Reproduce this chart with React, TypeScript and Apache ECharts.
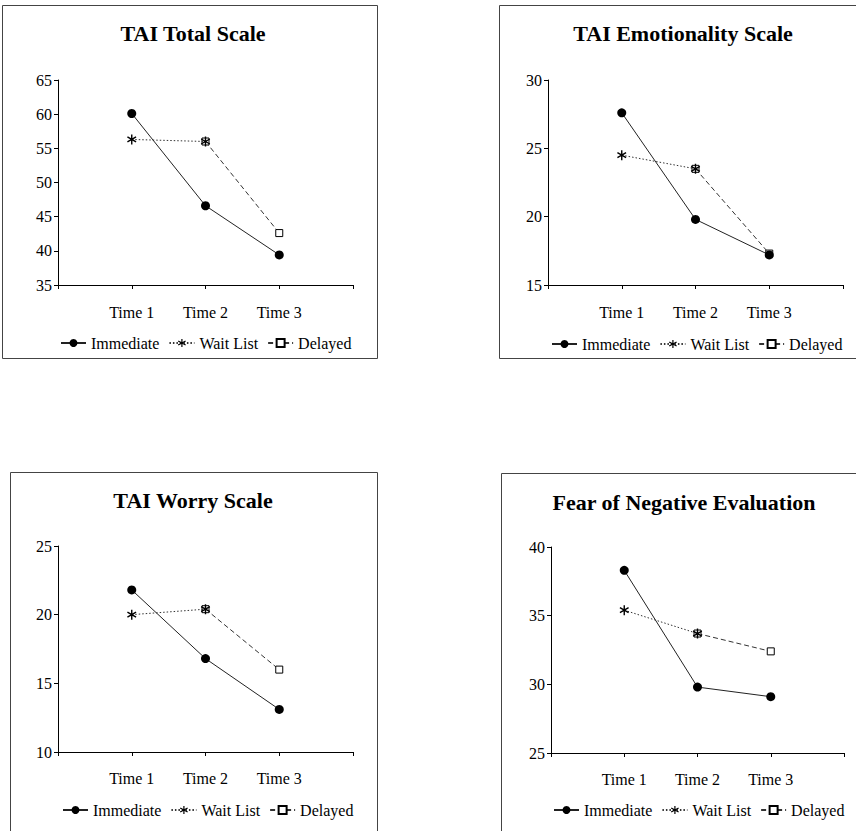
import React, { useEffect, useRef } from 'react';
import * as echarts from 'echarts';

const categories = ['Time 1', 'Time 2', 'Time 3'];
const seriesNames = ['Immediate', 'Wait List', 'Delayed'];
const panelTitles = ['TAI Total Scale', 'TAI Emotionality Scale', 'TAI Worry Scale', 'Fear of Negative Evaluation'];
const yMins = [35, 15, 10, 25];
const yMaxs = [65, 30, 25, 40];
const yStep = 5;

const totalImmediate = [60.1, 46.6, 39.4];
const totalWaitList = [56.3, 56.0, null];
const totalDelayed = [null, 56.0, 42.6];

const emotionImmediate = [27.6, 19.8, 17.2];
const emotionWaitList = [24.5, 23.5, null];
const emotionDelayed = [null, 23.5, 17.3];

const worryImmediate = [21.8, 16.8, 13.1];
const worryWaitList = [20.0, 20.4, null];
const worryDelayed = [null, 20.4, 16.0];

const fneImmediate = [38.3, 29.8, 29.1];
const fneWaitList = [35.4, 33.7, null];
const fneDelayed = [null, 33.7, 32.4];

const panelData = [
  [totalImmediate, totalWaitList, totalDelayed],
  [emotionImmediate, emotionWaitList, emotionDelayed],
  [worryImmediate, worryWaitList, worryDelayed],
  [fneImmediate, fneWaitList, fneDelayed],
];

// layout (pixels)
const layouts = [
  { box: [2.5, 5.5, 375, 353], grid: [58, 80, 295, 205], title: [193, 33], legend: [60, 335], labelMargin: 19 },
  { box: [499.5, 5.5, 390, 353], grid: [548, 80, 295, 205], title: [683, 33], legend: [551, 336], labelMargin: 19 },
  { box: [10.5, 472.5, 367, 390], grid: [58, 546, 295, 206], title: [193, 500], legend: [62, 802], labelMargin: 18 },
  { box: [501.5, 473.5, 390, 390], grid: [551, 547, 293, 206], title: [684, 502], legend: [553, 802], labelMargin: 18 },
];

const FONT = 'Liberation Serif, serif';

const asteriskPath =
  'path://M-0.7,-5 L0.7,-5 L0.7,5 L-0.7,5 Z ' +
  'M3.98,3.11 L-4.68,-1.89 L-3.98,-3.11 L4.68,1.89 Z ' +
  'M-4.68,1.89 L3.98,-3.11 L4.68,-1.89 L-3.98,3.11 Z';

function toPoints(vals: (number | null)[]) {
  const pts: number[][] = [];
  vals.forEach((v, i) => {
    if (v !== null && v !== undefined) pts.push([i + 1, v]);
  });
  return pts;
}

export default function App() {
  const ref = useRef<HTMLDivElement>(null);
  useEffect(() => {
    if (!ref.current) return;
    const chart = echarts.init(ref.current, undefined, { renderer: 'svg' });
    const grids: any[] = [];
    const xAxes: any[] = [];
    const yAxes: any[] = [];
    const series: any[] = [];
    const legends: any[] = [];
    const graphics: any[] = [];

    layouts.forEach((L, p) => {
      graphics.push({
        type: 'rect',
        shape: { x: L.box[0], y: L.box[1], width: L.box[2], height: L.box[3] },
        style: { fill: 'none', stroke: '#444', lineWidth: 1 },
        silent: true,
      });
      graphics.push({
        type: 'text',
        x: L.title[0],
        y: L.title[1],
        style: {
          text: panelTitles[p],
          fill: '#000',
          fontFamily: FONT,
          fontWeight: 'bold',
          fontSize: 22,
          textAlign: 'center',
          textVerticalAlign: 'middle',
          align: 'center',
          verticalAlign: 'middle',
        },
      });
      grids.push({ left: L.grid[0], top: L.grid[1], width: L.grid[2], height: L.grid[3] });
      xAxes.push({
        gridIndex: p,
        type: 'value',
        min: 0,
        max: categories.length + 1,
        interval: 1,
        splitLine: { show: false },
        axisLine: { lineStyle: { color: '#000', width: 1 } },
        axisTick: { length: 4, lineStyle: { color: '#000' } },
        axisLabel: {
          margin: L.labelMargin,
          color: '#000',
          fontFamily: FONT,
          fontSize: 16,
          formatter: (v: number) => (v >= 1 && v <= categories.length ? categories[v - 1] : ''),
        },
      });
      yAxes.push({
        gridIndex: p,
        type: 'value',
        min: yMins[p],
        max: yMaxs[p],
        interval: yStep,
        splitLine: { show: false },
        axisLine: { show: true, lineStyle: { color: '#000', width: 1 } },
        axisTick: { show: true, length: 4, lineStyle: { color: '#000' } },
        axisLabel: { margin: 6, color: '#000', fontFamily: FONT, fontSize: 16 },
      });
      const [imm, wait, del] = panelData[p];
      series.push({
        name: 'Delayed',
        type: 'line',
        xAxisIndex: p,
        yAxisIndex: p,
        data: toPoints(del),
        symbol: 'rect',
        symbolSize: 7,
        color: '#000',
        itemStyle: { color: '#fff', borderColor: '#000', borderWidth: 1 },
        lineStyle: { color: '#333', width: 1, type: [5, 3] },
        z: 2,
      });
      series.push({
        name: 'Wait List',
        type: 'line',
        xAxisIndex: p,
        yAxisIndex: p,
        data: toPoints(wait),
        symbol: asteriskPath,
        symbolKeepAspect: true,
        symbolSize: 10,
        color: '#000',
        itemStyle: { color: '#000', borderWidth: 0 },
        lineStyle: { color: '#333', width: 1, type: [1.5, 2] },
        z: 3,
      });
      series.push({
        name: 'Immediate',
        type: 'line',
        xAxisIndex: p,
        yAxisIndex: p,
        data: toPoints(imm),
        symbol: 'circle',
        symbolSize: 9,
        color: '#000',
        itemStyle: { color: '#000' },
        lineStyle: { color: '#222', width: 1, type: 'solid' },
        z: 4,
      });
      legends.push({
        data: seriesNames,
        left: L.legend[0],
        top: L.legend[1],
        padding: 0,
        itemGap: 9,
        itemWidth: 25,
        itemHeight: 10,
        textStyle: { color: '#000', fontFamily: FONT, fontSize: 16 },
        selectedMode: false,
      });
    });

    chart.setOption({
      animation: false,
      backgroundColor: '#fff',
      textStyle: { fontFamily: FONT, color: '#000' },
      grid: grids,
      xAxis: xAxes,
      yAxis: yAxes,
      series,
      legend: legends,
      graphic: graphics,
    });
    return () => chart.dispose();
  }, []);
  return (
    <div
      ref={ref}
      style={{ position: 'absolute', left: 0, top: 0, width: 856, height: 831 }}
    />
  );
}
